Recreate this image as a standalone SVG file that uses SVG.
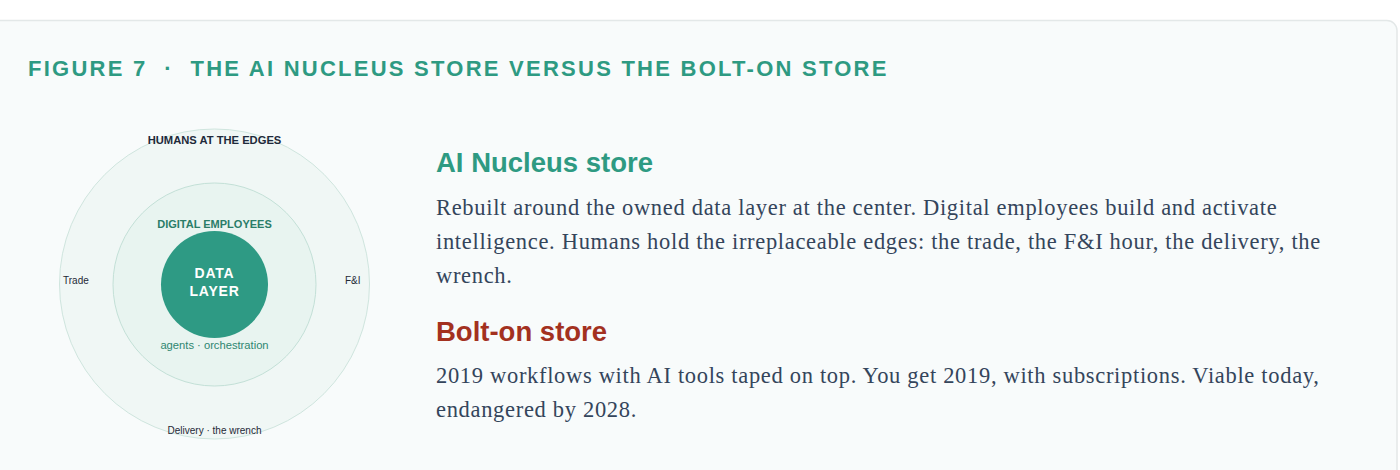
<svg xmlns="http://www.w3.org/2000/svg" width="1400" height="470" viewBox="0 0 1400 470">
<style>
.sans{font-family:"Liberation Sans",Arial,sans-serif}
.serif{font-family:"Liberation Serif","Times New Roman",serif}
.title{font-size:22px;font-weight:bold;fill:#2e9a82;letter-spacing:2.25px}
.lbl{font-size:10px;fill:#1f2937}
.cap{font-weight:bold}
.head{font-size:27.5px;font-weight:bold}
.body{font-size:22.5px;fill:#34455b;letter-spacing:0.68px}
</style>
<rect x="0" y="0" width="1400" height="470" fill="#ffffff"/>
<rect x="-10" y="20.5" width="1407" height="470" rx="10" fill="#f8fbfb" stroke="#e3e8e8" stroke-width="1.5"/>
<text class="sans title" x="28" y="75.5" xml:space="preserve">FIGURE 7  ·  THE AI NUCLEUS STORE VERSUS THE BOLT-ON STORE</text>

<g id="humans">
<circle cx="214.5" cy="284" r="155" fill="#f0f7f5" stroke="#cfe5de" stroke-width="1"/>
<text class="sans cap" x="214.5" y="144" text-anchor="middle" font-size="11.2" fill="#1e2a3a">HUMANS AT THE EDGES</text>
<text class="sans lbl" x="63" y="284">Trade</text>
<text class="sans lbl" x="345" y="284">F&amp;I</text>
<text class="sans lbl" x="214.5" y="434" text-anchor="middle">Delivery · the wrench</text>
</g>
<g id="digital">
<circle cx="214.5" cy="284.5" r="101.5" fill="#e8f4f0" stroke="#c3e0d7" stroke-width="1"/>
<text class="sans cap" x="214.5" y="228" text-anchor="middle" font-size="11" fill="#2a7d68">DIGITAL EMPLOYEES</text>
<text class="sans" x="214.5" y="349" text-anchor="middle" font-size="11.2" fill="#2e8670">agents · orchestration</text>
</g>
<g id="data">
<circle cx="214.5" cy="284.5" r="53.5" fill="#2e9a84"/>
<text class="sans" x="214.5" y="278" text-anchor="middle" font-size="14" font-weight="bold" fill="#ffffff" letter-spacing="0.8">DATA</text>
<text class="sans" x="214.5" y="296" text-anchor="middle" font-size="14" font-weight="bold" fill="#ffffff" letter-spacing="0.8">LAYER</text>
</g>
<g id="connectors"></g>

<g id="nucleus">
<text class="sans head" x="436" y="172" fill="#2e9a82">AI Nucleus store</text>
<text class="serif body" x="436" y="215">Rebuilt around the owned data layer at the center. Digital employees build and activate</text>
<text class="serif body" x="436" y="249">intelligence. Humans hold the irreplaceable edges: the trade, the F&amp;I hour, the delivery, the</text>
<text class="serif body" x="436" y="283">wrench.</text>
</g>
<g id="bolton">
<text class="sans head" x="436" y="341" fill="#a3311f">Bolt-on store</text>
<text class="serif body" x="436" y="383">2019 workflows with AI tools taped on top. You get 2019, with subscriptions. Viable today,</text>
<text class="serif body" x="436" y="417">endangered by 2028.</text>
</g>
</svg>
